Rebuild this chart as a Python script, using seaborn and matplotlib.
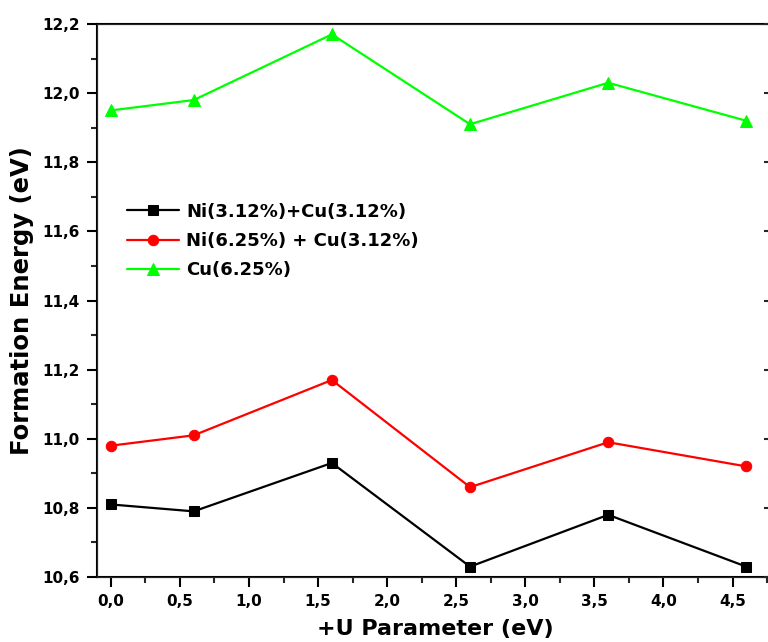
import pandas as pd
import seaborn as sns
import matplotlib.pyplot as plt
from matplotlib.ticker import MultipleLocator, FuncFormatter

u_param = [0.0, 0.6, 1.6, 2.6, 3.6, 4.6]
ni_cu_312 = [10.81, 10.79, 10.93, 10.63, 10.78, 10.63]
ni625_cu312 = [10.98, 11.01, 11.17, 10.86, 10.99, 10.92]
cu_625 = [11.95, 11.98, 12.17, 11.91, 12.03, 11.92]

labels = ['Ni(3.12%)+Cu(3.12%)', 'Ni(6.25%) + Cu(3.12%)', 'Cu(6.25%)']
colors = ['black', '#ff0000', '#00ff00']
markers = ['s', 'o', '^']
msizes = [7, 7.5, 9]


def comma(v, pos):
    return f'{v:.1f}'.replace('.', ',')


sns.set_style('ticks')
plt.rcParams['font.family'] = ['DejaVu Sans']
plt.rcParams['font.weight'] = 'bold'
plt.rcParams['text.color'] = 'black'
plt.rcParams['axes.labelcolor'] = 'black'

fig = plt.figure(figsize=(7.68, 6.42), dpi=100)
ax = fig.add_axes([0.1263, 0.1012, 0.8815, 0.8614])

series = [ni_cu_312, ni625_cu312, cu_625]
for vals, lab, col, mk, ms in zip(series, labels, colors, markers, msizes):
    df = pd.DataFrame({'u': u_param, 'energy': vals})
    sns.lineplot(data=df, x='u', y='energy', ax=ax, color=col, marker=mk,
                 markersize=ms, markeredgecolor=col, linewidth=1.6, label=lab)

ax.set_xlim(-0.1, 4.8)
ax.set_ylim(10.6, 12.2)
ax.xaxis.set_major_locator(MultipleLocator(0.5))
ax.xaxis.set_minor_locator(MultipleLocator(0.25))
ax.yaxis.set_major_locator(MultipleLocator(0.2))
ax.yaxis.set_minor_locator(MultipleLocator(0.1))
ax.xaxis.set_major_formatter(FuncFormatter(comma))
ax.yaxis.set_major_formatter(FuncFormatter(comma))

for s in ax.spines.values():
    s.set_linewidth(1.5)
    s.set_color('black')

ax.tick_params(which='major', direction='out', length=7.5, width=1.5,
               labelsize=11, pad=5, colors='black')
ax.tick_params(which='minor', direction='out', length=4, width=1.5)
ax.tick_params(top=False, right=False)

# inward ticks on the right side
ax2 = ax.twinx()
ax2.set_ylim(10.6, 12.2)
ax2.yaxis.set_major_locator(MultipleLocator(0.2))
ax2.yaxis.set_minor_locator(MultipleLocator(0.1))
ax2.tick_params(which='both', direction='in', labelright=False, width=1.5)
ax2.tick_params(which='major', length=7.5)
ax2.tick_params(which='minor', length=4)
ax2.spines['right'].set_linewidth(1.5)

ax.set_xlabel('+U Parameter (eV)', fontsize=16, fontweight='bold',
              labelpad=7, color='black')
ax.set_ylabel('Formation Energy (eV)', fontsize=17.5, fontweight='bold',
              labelpad=6, color='black')

leg = ax.legend(loc='upper left', bbox_to_anchor=(0.044, 0.677), frameon=False,
                borderpad=0, borderaxespad=0, labelspacing=0.63,
                handlelength=2.9, handletextpad=0.4,
                prop={'weight': 'bold', 'size': 13})
for t in leg.get_texts():
    t.set_color('black')

fig.savefig('out.png', dpi=100)
